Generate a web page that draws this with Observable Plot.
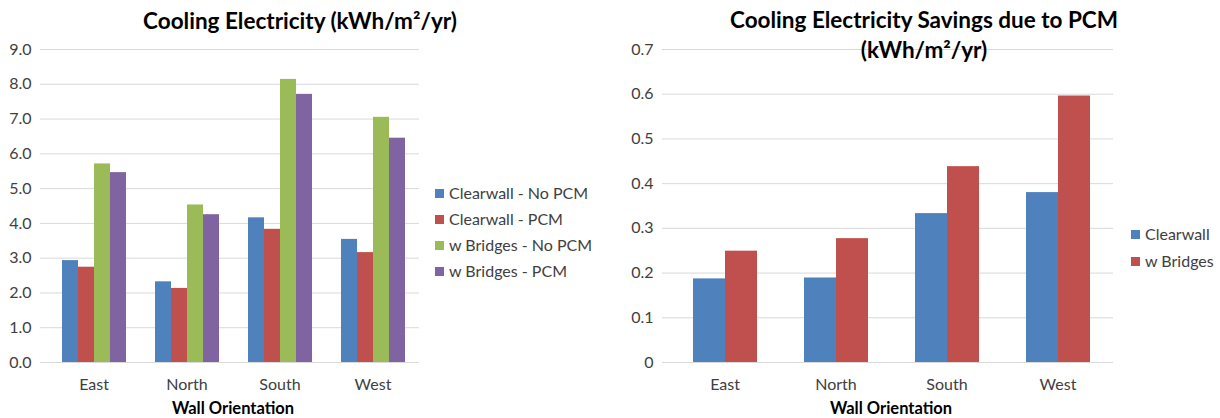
<!DOCTYPE html>
<html>
<head>
<meta charset="utf-8">
<script src="https://cdn.jsdelivr.net/npm/d3@7"></script>
<script src="https://cdn.jsdelivr.net/npm/@observablehq/plot@0.6"></script>
<style>
  html, body { margin: 0; padding: 0; background: #fff; }
  #root { position: relative; width: 1220px; height: 418px; background: #fff; font-family: Lato, "Open Sans", sans-serif; overflow: hidden; }
  .abs { position: absolute; }
  .title { font-weight: bold; font-size: 22.5px; color: #000; text-align: center; white-space: nowrap; }
  .xlab { font-weight: bold; font-size: 16.5px; color: #000; text-align: center; white-space: nowrap; line-height: 18px; }
  .leg { font-size: 16px; color: #404040; white-space: nowrap; line-height: 18px; display: flex; align-items: center; }
  .sw { width: 9px; height: 9px; margin-right: 5px; display: inline-block; }
</style>
</head>
<body>
<div id="root"></div>
<script>
// ---- data ----
const orientations = ["East", "North", "South", "West"];
const seriesLeft = ["Clearwall - No PCM", "Clearwall - PCM", "w Bridges - No PCM", "w Bridges - PCM"];
const clearwallNoPCM = [2.93, 2.32, 4.16, 3.54];
const clearwallPCM   = [2.74, 2.13, 3.83, 3.16];
const bridgesNoPCM   = [5.71, 4.53, 8.14, 7.05];
const bridgesPCM     = [5.46, 4.25, 7.71, 6.45];
const seriesRight = ["Clearwall", "w Bridges"];
const savingsClearwall = [0.187, 0.189, 0.333, 0.380];
const savingsBridges   = [0.249, 0.277, 0.438, 0.596];
const yTicksLeft = [0, 1, 2, 3, 4, 5, 6, 7, 8, 9];
const yTicksRight = [0, 0.1, 0.2, 0.3, 0.4, 0.5, 0.6, 0.7];
const titleLeft = "Cooling Electricity (kWh/m²/yr)";
const titleRight = ["Cooling Electricity Savings due to PCM", "(kWh/m²/yr)"];
const xTitle = "Wall Orientation";
const colorsLeft = ["#4F81BD", "#C0504D", "#9BBB59", "#8064A2"];
const colorsRight = ["#4F81BD", "#C0504D"];

const leftValues = [clearwallNoPCM, clearwallPCM, bridgesNoPCM, bridgesPCM];
const rightValues = [savingsClearwall, savingsBridges];
const leftData = [];
orientations.forEach((o, i) => seriesLeft.forEach((s, j) => leftData.push({orient: o, series: s, value: leftValues[j][i]})));
const rightData = [];
orientations.forEach((o, i) => seriesRight.forEach((s, j) => rightData.push({orient: o, series: s, value: rightValues[j][i]})));

const root = document.getElementById("root");
const gridColor = "#d9d9d9";
const textColor = "#404040";

function chart({data, series, colors, yDomain, yTicks, tickFormat, width, marginLeft, marginRight, pad}) {
  return Plot.plot({
    width, height: 418,
    marginLeft, marginRight, marginTop: 49, marginBottom: 56,
    style: {fontFamily: "Lato, 'Open Sans', sans-serif", fontSize: "16px", color: textColor, background: "transparent", overflow: "visible"},
    fx: {domain: orientations, padding: 0, label: null, tickSize: 0, tickPadding: 16},
    x: {domain: series, paddingInner: 0, paddingOuter: pad, axis: null},
    y: {domain: yDomain, axis: null},
    color: {domain: series, range: colors},
    marks: [
      Plot.gridY(yTicks, {stroke: gridColor, strokeOpacity: 1}),
      Plot.axisY(yTicks, {tickSize: 7, tickPadding: 9, stroke: gridColor, strokeOpacity: 1, fill: textColor, tickFormat, line: true, label: null, fontSize: 16}),
      Plot.barY(data, {fx: "orient", x: "series", y: "value", fill: "series"}),
      Plot.ruleY([0], {stroke: gridColor})
    ]
  });
}

const left = chart({data: leftData, series: seriesLeft, colors: colorsLeft, yDomain: [0, 9], yTicks: yTicksLeft,
  tickFormat: d => d.toFixed(1), width: 430, marginLeft: 45, marginRight: 10, pad: 0.765});
left.classList.add("abs"); left.style.left = "0px"; left.style.top = "0px";
root.appendChild(left);

const right = chart({data: rightData, series: seriesRight, colors: colorsRight, yDomain: [0, 0.7], yTicks: yTicksRight,
  tickFormat: d => d === 0 ? "0" : d.toFixed(1), width: 510, marginLeft: 59, marginRight: 7, pad: 0.73});
right.classList.add("abs"); right.style.left = "610px"; right.style.top = "0px";
root.appendChild(right);

function addDiv(cls, html, style) {
  const d = document.createElement("div");
  d.className = "abs " + cls;
  d.innerHTML = html;
  Object.assign(d.style, style);
  root.appendChild(d);
  return d;
}
addDiv("title", titleLeft, {left: "0px", width: "600px", top: "7px", lineHeight: "28px"});
addDiv("title", titleRight.join("<br>"), {left: "624px", width: "600px", top: "5px", lineHeight: "30px"});
addDiv("xlab", xTitle, {left: "133px", width: "200px", top: "399px"});
addDiv("xlab", xTitle, {left: "791px", width: "200px", top: "399px"});

function legend(series, colors, x, ys) {
  series.forEach((s, i) => {
    addDiv("leg", `<span class="sw" style="background:${colors[i]}"></span>${s}`, {left: x + "px", top: (ys[i] - 9) + "px"});
  });
}
legend(seriesLeft, colorsLeft, 435, [193, 219, 245, 271]);
legend(seriesRight, colorsRight, 1131, [234, 261]);
</script>
</body>
</html>
